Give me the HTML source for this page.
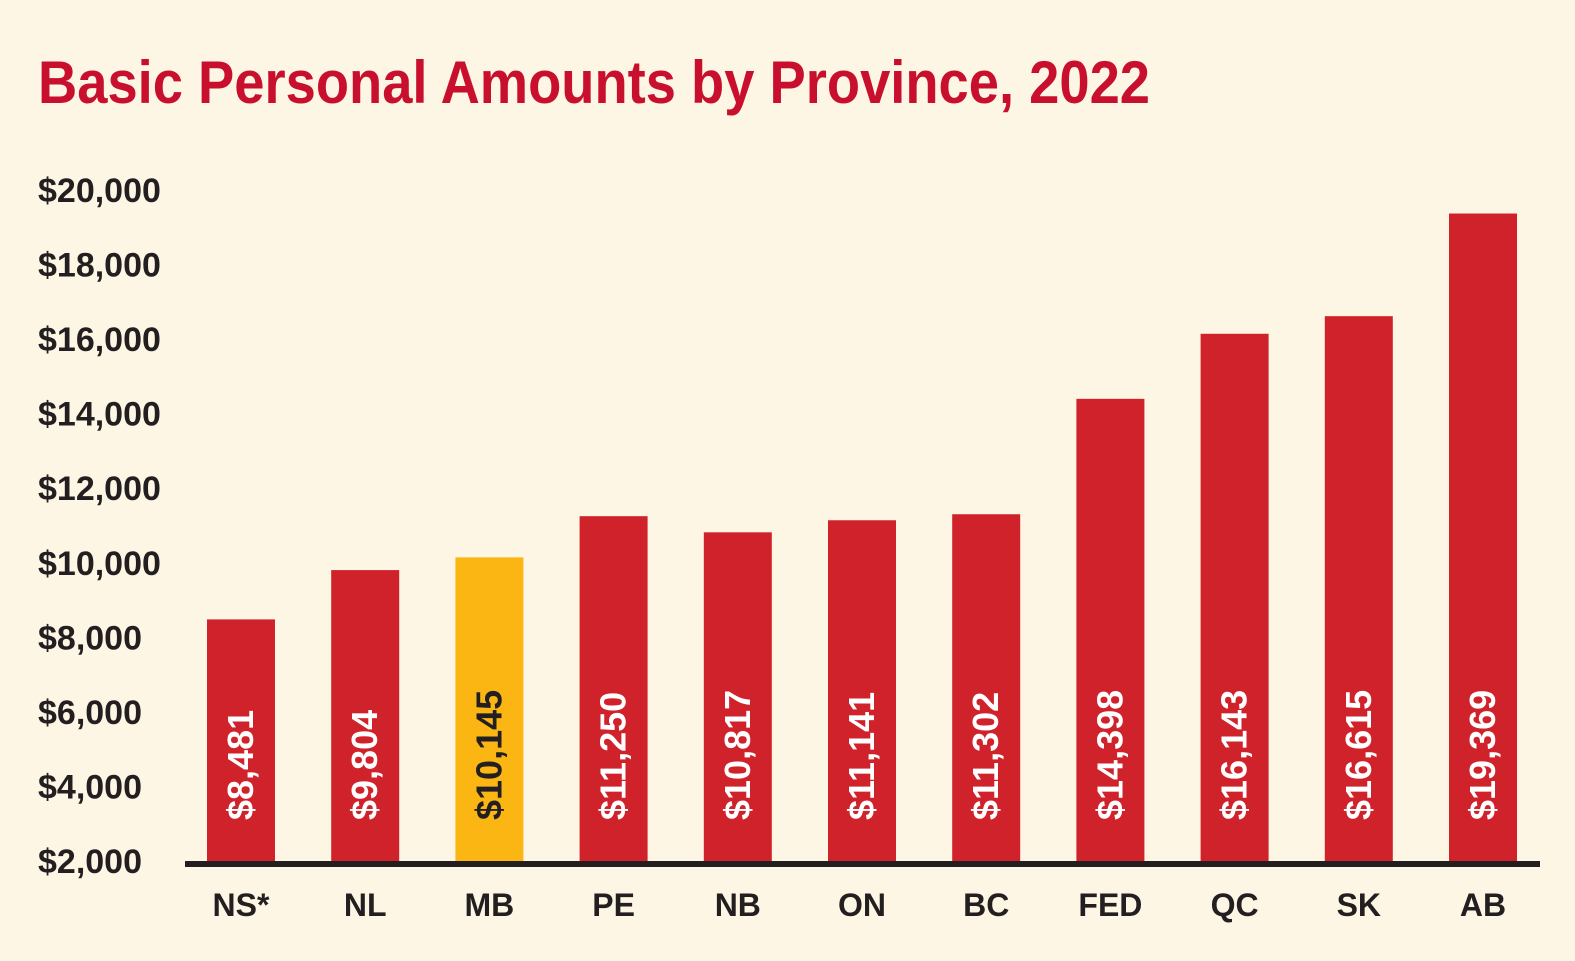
<!DOCTYPE html>
<html><head><meta charset="utf-8"><style>
html,body{margin:0;padding:0;background:#fdf6e4;}
svg{display:block;}
text{font-family:"Liberation Sans",sans-serif;}
</style></head><body>
<svg id="chart" width="1575" height="961" viewBox="0 0 1575 961" xmlns="http://www.w3.org/2000/svg">
<rect width="1575" height="961" fill="#fdf6e4"/>
<text x="38" y="103" font-size="60" font-weight="bold" fill="#c8102e" textLength="1112" lengthAdjust="spacingAndGlyphs">Basic Personal Amounts by Province, 2022</text>
<g id="yaxis"></g>
<g id="bars"></g>
<g id="xaxis"></g>
</svg>
<script>
const categories = ["NS*","NL","MB","PE","NB","ON","BC","FED","QC","SK","AB"];
const values = [8481,9804,10145,11250,10817,11141,11302,14398,16143,16615,19369];
const valueLabels = ["$8,481","$9,804","$10,145","$11,250","$10,817","$11,141","$11,302","$14,398","$16,143","$16,615","$19,369"];
const highlight = ["MB"];
const yTicks = [2000,4000,6000,8000,10000,12000,14000,16000,18000,20000];
const yTickLabels = ["$2,000","$4,000","$6,000","$8,000","$10,000","$12,000","$14,000","$16,000","$18,000","$20,000"];

const NS="http://www.w3.org/2000/svg";
const yMin=2000,yMax=20000,yBase=861,yTop=190;
function y(v){return yBase-(v-yMin)/(yMax-yMin)*(yBase-yTop);}
const x0=241,step=124.2,bw=68;
function x(i){return x0+i*step;}
const ya=document.getElementById('yaxis'),bg=document.getElementById('bars'),xa=document.getElementById('xaxis');
yTicks.forEach((t,i)=>{
  const tx=document.createElementNS(NS,'text');
  
  
  tx.setAttribute('x',38);tx.setAttribute('y',y(t)+12);
  tx.setAttribute('font-size','34');tx.setAttribute('font-weight','bold');tx.setAttribute('fill','#231f20');
  tx.textContent=yTickLabels[i];ya.appendChild(tx);
});
categories.forEach((c,i)=>{
  const r=document.createElementNS(NS,'rect');
  
  
  const hl=highlight.includes(c);
  r.setAttribute('x',x(i)-bw/2);r.setAttribute('y',y(values[i]));
  r.setAttribute('width',bw);r.setAttribute('height',yBase-y(values[i]));
  r.setAttribute('fill',hl?'#fbb614':'#d0222b');bg.appendChild(r);
  const t=document.createElementNS(NS,'text');
  
  
  t.setAttribute('transform','translate('+(x(i)+12)+',820) rotate(-90)');
  t.setAttribute('font-size','36');t.setAttribute('font-weight','bold');
  t.setAttribute('fill',hl?'#231f20':'#ffffff');
  t.textContent=valueLabels[i];bg.appendChild(t);
  const l=document.createElementNS(NS,'text');
  
  
  l.setAttribute('x',x(i));l.setAttribute('y',916);l.setAttribute('text-anchor','middle');
  l.setAttribute('font-size','32');l.setAttribute('font-weight','bold');l.setAttribute('fill','#231f20');
  l.textContent=c;xa.appendChild(l);
});
const ax=document.createElementNS(NS,'rect');


ax.setAttribute('x',185);ax.setAttribute('y',yBase);ax.setAttribute('width',1355);ax.setAttribute('height',6);ax.setAttribute('fill','#231f20');
xa.appendChild(ax);
</script>
</body></html>
